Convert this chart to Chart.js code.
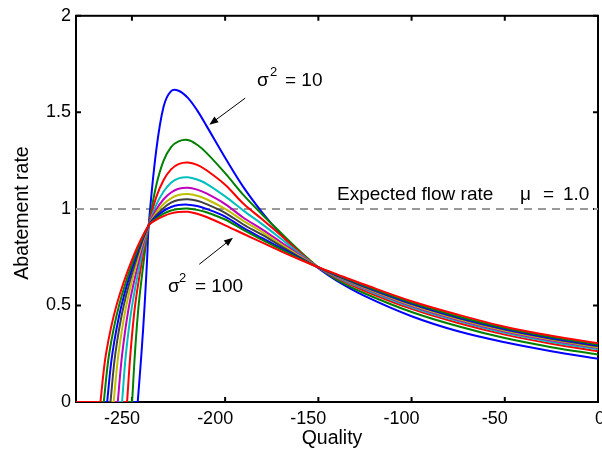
<!DOCTYPE html>
<html>
<head>
<meta charset="utf-8">
<script src="https://cdn.jsdelivr.net/npm/chart.js@4.4.0/dist/chart.umd.min.js"></script>
<style>
  html, body { margin: 0; padding: 0; background: #fff; }
  #wrap { width: 602px; height: 454px; }
</style>
</head>
<body>
<div id="wrap"><canvas id="chart" width="602" height="454"></canvas></div>
<script>
// axis ticks
const xTicks = [-250, -200, -150, -100, -50, 0];
const yTicks = [0, 0.5, 1, 1.5, 2];

// one curve per variance
const sigma2 = [10, 20, 30, 40, 50, 60, 70, 80, 90, 100];
const colors = ["#0000ff", "#008000", "#ff0000", "#00bfbf", "#bf00bf", "#bfbf00", "#404040", "#0000ff", "#008000", "#ff0000"];

// rising edge: quality at which each curve reaches these levels
const riseLevels = [0, 0.25, 0.5, 0.75];
const rise10 = [-246.9, -244.9, -243.2, -241.8];
const rise20 = [-249.9, -248.4, -246.4, -243.4];
const rise30 = [-252.6, -250.8, -248.3, -244.3];
const rise40 = [-255.3, -253.2, -249.9, -245.0];
const rise50 = [-257.6, -255.2, -251.5, -245.8];
const rise60 = [-259.8, -257.2, -253.0, -246.6];
const rise70 = [-261.5, -258.9, -254.4, -247.3];
const rise80 = [-263.3, -260.5, -255.6, -248.0];
const rise90 = [-265.1, -262.2, -256.9, -248.6];
const rise100 = [-266.9, -263.9, -258.3, -249.4];

// shared quality grid from the crossing point on
const quality = [-241, -237, -233, -229, -225, -220, -215, -210, -200, -190, -180, -170, -160, -150, -140, -125, -100, -75, -50, -25, 0];
const y10 = [0.915, 1.30, 1.53, 1.61, 1.612, 1.575, 1.51, 1.43, 1.265, 1.11, 0.98, 0.868, 0.772, 0.693, 0.627, 0.548, 0.444, 0.366, 0.309, 0.263, 0.224];
const y20 = [0.915, 1.12, 1.25, 1.32, 1.35, 1.357, 1.332, 1.29, 1.185, 1.07, 0.97, 0.875, 0.782, 0.698, 0.633, 0.562, 0.466, 0.392, 0.331, 0.284, 0.246];
const y30 = [0.915, 1.06, 1.15, 1.205, 1.232, 1.24, 1.228, 1.2, 1.125, 1.025, 0.945, 0.862, 0.775, 0.697, 0.642, 0.575, 0.482, 0.409, 0.349, 0.302, 0.263];
const y40 = [0.915, 1.02, 1.09, 1.135, 1.158, 1.164, 1.152, 1.13, 1.065, 0.99, 0.92, 0.845, 0.768, 0.697, 0.646, 0.583, 0.491, 0.419, 0.358, 0.311, 0.273];
const y50 = [0.915, 0.995, 1.05, 1.085, 1.104, 1.11, 1.1, 1.08, 1.025, 0.953, 0.893, 0.827, 0.761, 0.697, 0.649, 0.588, 0.497, 0.425, 0.365, 0.318, 0.279];
const y60 = [0.915, 0.98, 1.025, 1.055, 1.072, 1.077, 1.068, 1.05, 1.0, 0.937, 0.88, 0.817, 0.755, 0.697, 0.652, 0.591, 0.502, 0.43, 0.37, 0.323, 0.284];
const y70 = [0.915, 0.967, 1.005, 1.032, 1.046, 1.05, 1.042, 1.025, 0.98, 0.918, 0.865, 0.807, 0.75, 0.697, 0.654, 0.595, 0.507, 0.435, 0.375, 0.328, 0.289];
const y80 = [0.915, 0.958, 0.99, 1.01, 1.02, 1.022, 1.015, 1.0, 0.96, 0.9, 0.848, 0.797, 0.746, 0.697, 0.656, 0.598, 0.51, 0.438, 0.378, 0.331, 0.292];
const y90 = [0.915, 0.95, 0.976, 0.992, 1.0, 1.002, 0.995, 0.983, 0.945, 0.89, 0.84, 0.79, 0.742, 0.697, 0.658, 0.602, 0.515, 0.443, 0.383, 0.336, 0.297];
const y100 = [0.915, 0.943, 0.963, 0.977, 0.984, 0.985, 0.975, 0.958, 0.915, 0.87, 0.825, 0.78, 0.738, 0.698, 0.661, 0.607, 0.522, 0.452, 0.39, 0.343, 0.304];

const expectedFlow = 1.0;
const xMin = -280;
const xMax = 0;

const rises = [rise10, rise20, rise30, rise40, rise50, rise60, rise70, rise80, rise90, rise100];
const values = [y10, y20, y30, y40, y50, y60, y70, y80, y90, y100];

const FONT = "'Liberation Sans', Arial, Helvetica, sans-serif";

function buildCurve(i) {
  const pts = [];
  rises[i].forEach((q, k) => pts.push({ x: q, y: riseLevels[k] }));
  quality.forEach((q, k) => pts.push({ x: q, y: values[i][k] }));
  return pts;
}

const datasets = [];
sigma2.forEach((s, i) => {
  // flat part before the curve lifts off
  datasets.push({
    label: `σ² = ${s} (zero)`,
    data: [{ x: xMin, y: 0 }, { x: rises[i][0], y: 0 }],
    borderColor: colors[i],
    borderWidth: 2,
    pointRadius: 0,
    tension: 0,
    order: sigma2.length - i,
  });
  datasets.push({
    label: `σ² = ${s}`,
    data: buildCurve(i),
    borderColor: colors[i],
    borderWidth: 2,
    pointRadius: 0,
    tension: 0.35,
    order: sigma2.length - i,
  });
});

datasets.push({
  label: "Expected flow rate",
  data: [{ x: xMin, y: expectedFlow }, { x: xMax, y: expectedFlow }],
  borderColor: "#999999",
  borderWidth: 2,
  borderDash: [8, 6],
  pointRadius: 0,
  order: 50,
});

function arrow(ctx, x0, y0, x1, y1) {
  const ang = Math.atan2(y1 - y0, x1 - x0);
  const len = 9, hw = 3.5;
  ctx.beginPath();
  ctx.moveTo(x0, y0);
  ctx.lineTo(x1 - Math.cos(ang) * len * 0.8, y1 - Math.sin(ang) * len * 0.8);
  ctx.stroke();
  ctx.beginPath();
  ctx.moveTo(x1, y1);
  ctx.lineTo(x1 - Math.cos(ang) * len + Math.sin(ang) * hw, y1 - Math.sin(ang) * len - Math.cos(ang) * hw);
  ctx.lineTo(x1 - Math.cos(ang) * len - Math.sin(ang) * hw, y1 - Math.sin(ang) * len + Math.cos(ang) * hw);
  ctx.closePath();
  ctx.fill();
}

const framePlugin = {
  id: "frame",
  beforeDatasetsDraw(chart) {
    const { ctx, chartArea: a, scales } = chart;
    ctx.save();
    ctx.strokeStyle = "#000";
    ctx.lineWidth = 2;
    ctx.strokeRect(a.left, a.top, a.right - a.left, a.bottom - a.top);
    ctx.beginPath();
    xTicks.forEach(v => {
      const px = scales.x.getPixelForValue(v);
      ctx.moveTo(px, a.bottom); ctx.lineTo(px, a.bottom - 5);
      ctx.moveTo(px, a.top); ctx.lineTo(px, a.top + 5);
    });
    yTicks.forEach(v => {
      const py = scales.y.getPixelForValue(v);
      ctx.moveTo(a.left, py); ctx.lineTo(a.left + 5, py);
      ctx.moveTo(a.right, py); ctx.lineTo(a.right - 5, py);
    });
    ctx.stroke();
    ctx.restore();
  },
  afterDraw(chart) {
    const { ctx, chartArea: a, scales } = chart;
    const X = v => scales.x.getPixelForValue(v);
    const Y = v => scales.y.getPixelForValue(v);
    ctx.save();
    ctx.fillStyle = "#000";
    ctx.strokeStyle = "#000";

    // x tick labels
    ctx.font = `18px ${FONT}`;
    ctx.textAlign = "center";
    ctx.textBaseline = "alphabetic";
    xTicks.forEach(v => {
      ctx.fillText(String(v), X(v) + (v === 0 ? 2 : -10), a.bottom + 22);
    });

    // axis titles
    ctx.font = `19.5px ${FONT}`;
    ctx.fillText("Quality", 332, a.bottom + 42);
    ctx.save();
    ctx.translate(28, 213);
    ctx.rotate(-Math.PI / 2);
    ctx.fillText("Abatement rate", 0, 0);
    ctx.restore();

    // expected flow annotation
    ctx.textAlign = "left";
    ctx.font = `19px ${FONT}`;
    const by = Y(expectedFlow) - 9;
    ctx.fillText("Expected flow rate", 337, by);
    ctx.fillText("μ", 520, by);
    ctx.fillText("=", 543, by);
    ctx.fillText("1.0", 563, by);

    // sigma labels
    ctx.fillText("σ", 257, 86);
    ctx.fillText("= 10", 285, 86);
    ctx.fillText("σ", 168, 292);
    ctx.fillText("= 100", 195, 292);
    ctx.font = `13px ${FONT}`;
    ctx.fillText("2", 270, 76);
    ctx.fillText("2", 179, 282);

    // arrows
    ctx.lineWidth = 1;
    arrow(ctx, X(-189.2), Y(1.574), X(-208.5), Y(1.436));
    arrow(ctx, X(-213.9), Y(0.713), X(-195.8), Y(0.851));
    ctx.restore();
  },
};

new Chart(document.getElementById("chart"), {
  type: "line",
  data: { datasets },
  options: {
    responsive: false,
    animation: false,
    devicePixelRatio: 1,
    layout: { padding: { top: 12, right: 4, left: 0, bottom: 0 } },
    plugins: { legend: { display: false }, tooltip: { enabled: false } },
    scales: {
      x: {
        type: "linear",
        min: xMin,
        max: xMax,
        afterBuildTicks: s => { s.ticks = xTicks.map(v => ({ value: v })); },
        afterFit: s => { s.height = 52; },
        grid: { display: false, drawTicks: false },
        border: { display: false },
        ticks: { display: false },
      },
      y: {
        type: "linear",
        min: 0,
        max: 2,
        afterBuildTicks: s => { s.ticks = yTicks.map(v => ({ value: v })); },
        afterFit: s => { s.width = 76; },
        grid: { display: false, drawTicks: false },
        border: { display: false },
        ticks: {
          color: "#000",
          padding: 5,
          font: { family: FONT, size: 18 },
          callback: v => String(v),
        },
      },
    },
  },
  plugins: [framePlugin],
});
</script>
</body>
</html>
